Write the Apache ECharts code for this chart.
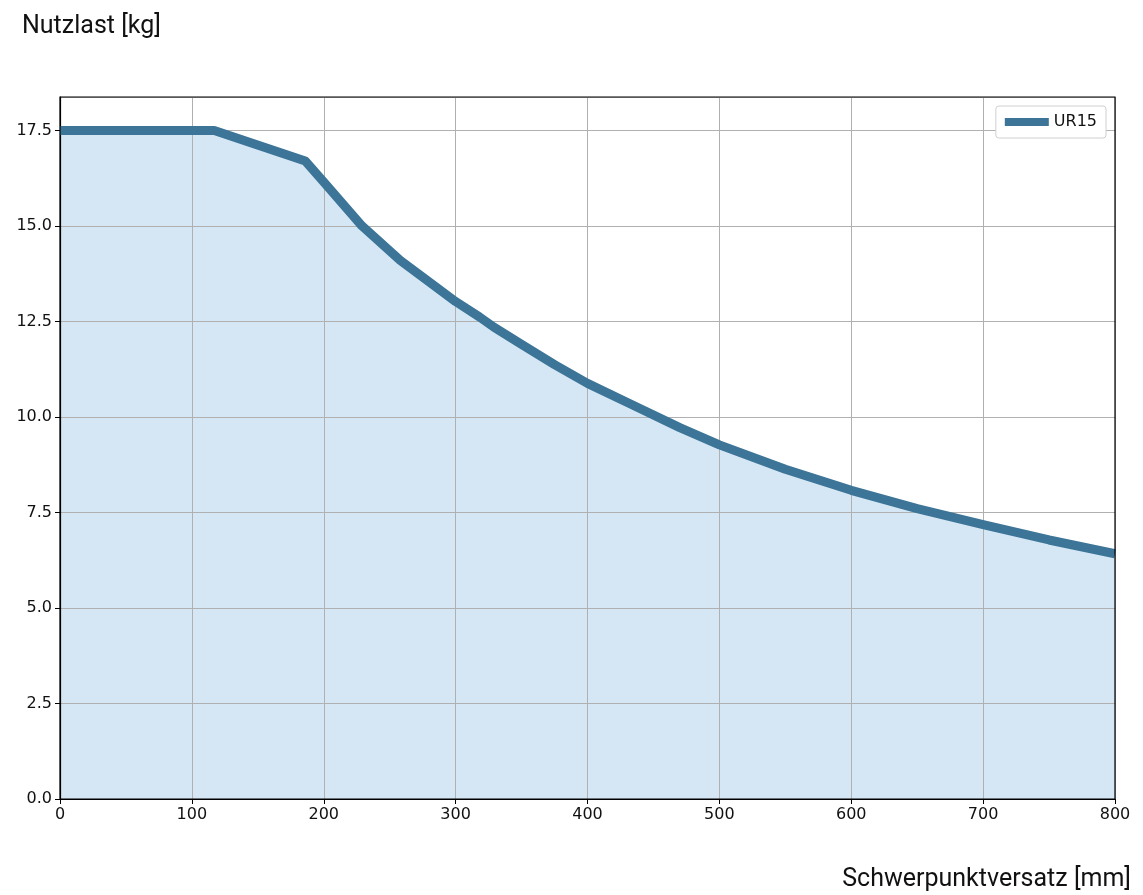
<!DOCTYPE html>
<html>
<head>
<meta charset="utf-8">
<script src="https://cdn.jsdelivr.net/npm/echarts@6/dist/echarts.min.js"></script>
<style>
  html, body { margin: 0; padding: 0; background: #fff; }
  #chart { width: 1143px; height: 895px; }
</style>
</head>
<body>
<div id="chart"></div>
<script>
  // Schwerpunktversatz [mm]
  var offsets = [0, 117, 186, 200, 229, 258, 300, 318, 329, 350, 375, 400, 435, 470, 500, 550, 600, 650, 700, 750, 800];
  // Nutzlast [kg]
  var payloads = [17.5, 17.5, 16.7, 16.15, 15.0, 14.1, 13.02, 12.62, 12.35, 11.9, 11.37, 10.88, 10.3, 9.72, 9.27, 8.63, 8.08, 7.6, 7.18, 6.78, 6.42];
  var seriesName = 'UR15';

  var points = [];
  for (var i in offsets) {
    points.push([offsets[i], payloads[i]]);
  }

  var labelFont = 'DejaVu Sans';
  var dom = document.getElementById("chart");
  var myChart = echarts.init(dom);
  var option = {
    animation: false,
    title: [
      {
        text: 'Nutzlast [kg]',
        left: 17, top: 9,
        textStyle: { fontFamily: 'Roboto', fontSize: 25, fontWeight: 'normal', color: '#111' }
      },
      {
        text: 'Schwerpunktversatz [mm]',
        right: 7, top: 862,
        textStyle: { fontFamily: 'Roboto', fontSize: 25, fontWeight: 'normal', color: '#111' }
      }
    ],
    legend: {
      right: 37, top: 106,
      data: [seriesName],
      icon: 'rect',
      itemWidth: 44, itemHeight: 8,
      itemGap: 8,
      padding: [8, 9, 8, 9],
      borderColor: '#d0d0d0', borderWidth: 1, borderRadius: 3,
      backgroundColor: '#fff',
      textStyle: { fontFamily: labelFont, fontSize: 16, color: '#111' }
    },
    grid: {
      left: 60, right: 28, top: 97, bottom: 96,
      show: true, borderColor: '#000', borderWidth: 1.2, z: 4
    },
    xAxis: {
      type: 'value',
      z: 2,
      min: 0, max: 800, interval: 100,
      axisLine: { lineStyle: { color: '#000', width: 1.2 } },
      axisTick: { show: true, length: 5, lineStyle: { color: '#000' } },
      axisLabel: { fontFamily: labelFont, fontSize: 16, color: '#111', margin: 8 },
      splitLine: { show: true, lineStyle: { color: '#b0b0b0', width: 1 } }
    },
    yAxis: {
      type: 'value',
      z: 2,
      min: 0, max: 18.375, interval: 2.5,
      axisLine: { show: true, lineStyle: { color: '#000', width: 1.2 } },
      axisTick: { show: true, length: 5, lineStyle: { color: '#000' } },
      axisLabel: {
        fontFamily: labelFont, fontSize: 16, color: '#111', margin: 8,
        showMaxLabel: false,
        formatter: function (v) { return v.toFixed(1); }
      },
      splitLine: { show: true, lineStyle: { color: '#b0b0b0', width: 1 } }
    },
    series: [
      {
        // fill under the curve, below the grid lines
        name: 'fill',
        type: 'line',
        z: 1,
        data: points,
        symbol: 'none',
        lineStyle: { width: 0 },
        areaStyle: { color: '#d5e6f4', opacity: 1 },
        silent: true
      },
      {
        name: seriesName,
        type: 'line',
        z: 3,
        data: points,
        symbol: 'none',
        lineStyle: { color: '#3c7597', width: 9, join: 'round' },
        itemStyle: { color: '#3c7597' }
      }
    ]
  };
  myChart.setOption(option, true);
</script>
</body>
</html>
